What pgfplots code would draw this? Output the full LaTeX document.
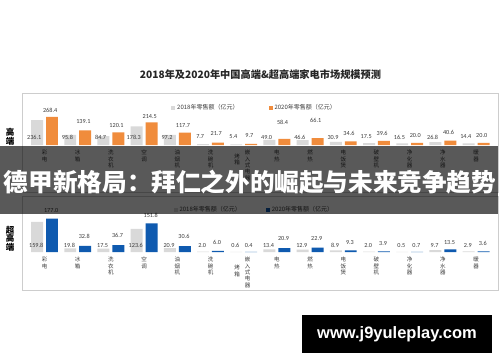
\documentclass[border=0pt]{standalone}
\usepackage{fontspec}
\usepackage{pgfplots}
\pgfplotsset{compat=1.18}
\setmainfont{Carlito}
\newfontfamily\cjk{Noto Sans CJK SC}
\newfontfamily\wm{Liberation Sans}
\definecolor{barGrey}{RGB}{217,217,217}
\definecolor{barOrange}{RGB}{240,140,60}
\definecolor{barBlue}{RGB}{15,90,175}
\definecolor{frameGrey}{RGB}{205,205,205}
\definecolor{txt}{RGB}{60,60,60}
\pgfplotsset{
  panel/.style={
    anchor=south west, scale only axis, width=476pt, height=52pt,
    xmin=-0.678, xmax=13.66, ymin=0,
    axis line style={draw=none}, ytick=\empty, major tick length=0pt,
    xtick={0,1,2,3,4,5,5.8,6.12,7,8,9,10,11,12,13},
    xticklabel style={font=\cjk\fontsize{5.5}{6.3}\selectfont, align=center, anchor=north, inner sep=0pt, text=txt, yshift=-5pt},
    clip=false,
    legend image code/.code={\fill[##1] (0pt,-2pt) rectangle (4pt,2pt);},
    legend style={draw=none, fill=none, font=\cjk\fontsize{6}{7}\selectfont, legend columns=2, inner sep=0pt, text=txt},
  },
  vlab/.style={draw=none, mark=none, forget plot, nodes near coords, point meta=explicit symbolic,
    nodes near coords style={font=\fontsize{6.2}{7}\selectfont, anchor=center, inner sep=0pt, text=txt}},
}
\begin{document}
\begin{tikzpicture}[x=1pt,y=1pt]
\useasboundingbox (0,0) rectangle (500,362);
\fill[white] (0,0) rectangle (500,362);
\node[font=\cjk\bfseries\fontsize{10.2}{12}\selectfont, text=black!85] at (260.5,287) {2018年及2020年中国高端\&超高端家电市场规模预测};
\draw[frameGrey, line width=0.7pt] (22,269) rectangle (498,170);
\draw[frameGrey, line width=0.7pt] (22,166) rectangle (498,72);
\node[font=\cjk\bfseries\fontsize{8.5}{9}\selectfont, align=center] at (10,225.5) {高\\端};
\node[font=\cjk\bfseries\fontsize{8.5}{8.5}\selectfont, align=center] at (10,123.5) {超\\高\\端};

\begin{axis}[panel, at={(22pt,217pt)}, ymax=495,
  xticklabels={{彩\\电},{冰\\箱},{洗\\衣\\机},{空\\调},{油\\烟\\机},{洗\\碗\\机},{\mbox{}\\[2pt]烤\\箱},{嵌\\入\\式\\电\\器},{电\\热},{燃\\热},{电\\饭\\煲},{破\\壁\\机},{净\\化\\器},{净\\水\\器},{暖\\器}},
  legend style={at={(0.313,0.71)}, anchor=west, /tikz/every even column/.append style={column sep=28pt}},
]
\addplot[ybar, bar width=0.36, bar shift=-0.225, fill=barGrey, draw=none] coordinates {
(0,236.1) (1,95.8) (2,84.7) (3,178.3) (4,97.2) (5,7.7) (6,5.4) (7,49.0) (8,46.6) (9,30.9) (10,17.5) (11,16.5) (12,26.8) (13,14.4)};
\addlegendentry{2018年零售额（亿元）}
\addplot[ybar, bar width=0.36, bar shift=0.225, fill=barOrange, draw=none] coordinates {
(0,268.4) (1,139.1) (2,120.1) (3,214.5) (4,117.7) (5,21.7) (6,9.7) (7,58.4) (8,66.1) (9,34.6) (10,39.6) (11,20.0) (12,40.6) (13,20.0)};
\addlegendentry{2020年零售额（亿元）}
\addplot[vlab] coordinates {
(-0.31,76)[236.1] (0.69,76)[95.8] (1.69,76)[84.7] (2.69,76)[178.3] (3.69,76)[97.2] (4.69,76)[7.7] (5.69,76)[5.4] (6.69,76)[49.0] (7.69,76)[46.6] (8.69,76)[30.9] (9.69,76)[17.5] (10.69,76)[16.5] (11.69,76)[26.8] (12.69,76)[14.4]};
\addplot[vlab] coordinates {
(0.17,333)[268.4] (1.17,219)[139.1] (2.17,190)[120.1] (3.17,267)[214.5] (4.17,190)[117.7] (5.17,105)[21.7] (6.17,86)[9.7] (7.17,219)[58.4] (8.17,238)[66.1] (9.17,114)[34.6] (10.17,114)[39.6] (11.17,95)[20.0] (12.17,124)[40.6] (13.17,95)[20.0]};
\end{axis}

\begin{axis}[panel, at={(22pt,110pt)}, ymax=276.6,
  xticklabels={{彩\\电},{冰\\箱},{洗\\衣\\机},{空\\调},{油\\烟\\机},{洗\\碗\\机},{\mbox{}\\\mbox{}\\烤\\箱},{嵌\\入\\式\\电\\器},{电\\热},{燃\\热},{电\\饭\\煲},{破\\壁\\机},{净\\化\\器},{净\\水\\器},{暖\\器}},
  legend style={at={(0.318,0.808)}, anchor=west, /tikz/every even column/.append style={column sep=23pt}},
]
\addplot[ybar, bar width=0.36, bar shift=-0.225, fill=barGrey, draw=none] coordinates {
(0,159.8) (1,19.8) (2,17.5) (3,123.6) (4,20.9) (5,2.0) (6,0.6) (7,13.4) (8,12.9) (9,8.9) (10,2.0) (11,0.5) (12,9.7) (13,2.9)};
\addlegendentry{2018年零售额（亿元）}
\addplot[ybar, bar width=0.36, bar shift=0.225, fill=barBlue, draw=none] coordinates {
(0,177.0) (1,32.8) (2,36.7) (3,151.8) (4,30.6) (5,6.0) (6,0.4) (7,20.9) (8,22.9) (9,9.3) (10,3.9) (11,0.7) (12,13.5) (13,3.6)};
\addlegendentry{2020年零售额（亿元）}
\addplot[vlab] coordinates {
(-0.25,37)[159.8] (0.75,37)[19.8] (1.75,37)[17.5] (2.75,37)[123.6] (3.75,37)[20.9] (4.75,37)[2.0] (5.75,37)[0.6] (6.75,37)[13.4] (7.75,37)[12.9] (8.75,37)[8.9] (9.75,37)[2.0] (10.75,37)[0.5] (11.75,37)[9.7] (12.75,37)[2.9]};
\addplot[vlab] coordinates {
(0.2,223)[177.0] (1.2,81)[32.8] (2.2,90)[36.7] (3.2,193)[151.8] (4.2,81)[30.6] (5.2,49)[6.0] (6.15,37)[0.4] (7.2,74)[20.9] (8.2,74)[22.9] (9.2,49)[9.3] (10.2,43)[3.9] (11.2,37)[0.7] (12.2,49)[13.5] (13.2,43)[3.6]};
\end{axis}

\fill[black, opacity=0.65] (0,148) rectangle (498,216);
\node[font=\cjk\bfseries\fontsize{24.6}{26}\selectfont, text=white] at (250,180) {德甲新格局：拜仁之外的崛起与未来竞争趋势};
\fill[black] (302,9) rectangle (492,47);
\node[font=\wm\bfseries\fontsize{16.5}{18}\selectfont, text=white] at (397,28) {www.j9yuleplay.com};
\end{tikzpicture}
\end{document}
